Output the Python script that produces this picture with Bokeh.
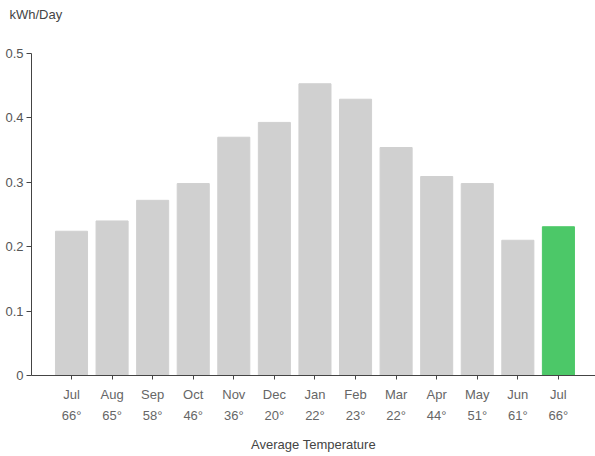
from bokeh.plotting import figure
from bokeh.models import FixedTicker, Range1d, CustomJSTickFormatter, ColumnDataSource
from bokeh.embed import file_html
from bokeh.resources import INLINE

months = ["Jul", "Aug", "Sep", "Oct", "Nov", "Dec", "Jan", "Feb", "Mar", "Apr", "May", "Jun", "Jul"]
temps = [66, 65, 58, 46, 36, 20, 22, 23, 22, 44, 51, 61, 66]
kwh = [0.224, 0.240, 0.272, 0.298, 0.370, 0.393, 0.453, 0.429, 0.354, 0.309, 0.298, 0.210, 0.231]
y_ticks = [0, 0.1, 0.2, 0.3, 0.4, 0.5]
unit_label = "kWh/Day"

FONT = "'Liberation Sans', Arial, sans-serif"
GREY = "#d0d0d0"
GREEN = "#4cc868"

xs = list(range(len(months)))
colors = [GREY] * (len(months) - 1) + [GREEN]
src = ColumnDataSource(dict(x=xs, top=kwh, color=colors))

X0, X1 = -0.986, 12.914
p = figure(width=595, height=456, output_backend="svg", toolbar_location=None,
           x_range=Range1d(X0, X1), y_range=Range1d(0, 0.5),
           min_border_top=53, min_border_bottom=81, min_border_right=0, min_border_left=31)
p.outline_line_color = None
p.grid.visible = False
p.background_fill_color = "white"
p.border_fill_color = "white"

# title text is padded with empty lines so that it sits near the top of the border
p.title.text = unit_label + "\n\n"
p.title.align = "left"
p.title.vertical_align = "top"
p.title.offset = -22
p.title.text_font = FONT
p.title.text_font_size = "13px"
p.title.text_font_style = "normal"
p.title.text_color = "#444444"
p.title.text_line_height = 1.0
p.title.standoff = 0

p.vbar(x="x", top="top", bottom=0, width=0.79, color="color", source=src)

# x axis
xa = p.xaxis[0]
xa.ticker = FixedTicker(ticks=xs)
xa.major_label_overrides = {i: f"{m}\n{t}°" for i, m, t in zip(xs, months, temps)}
xa.axis_label = "Average Temperature"
xa.axis_label_text_font = FONT
xa.axis_label_text_font_style = "normal"
xa.axis_label_text_font_size = "13px"
xa.axis_label_text_color = "#444444"
xa.axis_label_standoff = 11
xa.major_label_text_font = FONT
xa.major_label_text_font_size = "13px"
xa.major_label_text_color = "#666666"
xa.major_label_text_line_height = 1.45
xa.major_label_standoff = 7
xa.major_tick_in = 0
xa.major_tick_out = 4
xa.minor_tick_line_color = None
xa.axis_line_color = "#444444"
xa.major_tick_line_color = "#444444"

# y axis
ya = p.yaxis[0]
ya.ticker = FixedTicker(ticks=y_ticks)
ya.formatter = CustomJSTickFormatter(code="return tick == 0 ? '0' : tick.toFixed(1);")
ya.major_label_text_font = FONT
ya.major_label_text_font_size = "13px"
ya.major_label_text_color = "#555555"
ya.major_label_standoff = 3
ya.major_tick_in = 0
ya.major_tick_out = 5
ya.minor_tick_line_color = None
ya.axis_line_color = "#444444"
ya.major_tick_line_color = "#444444"

open("out.html", "w").write(file_html(p, INLINE))
